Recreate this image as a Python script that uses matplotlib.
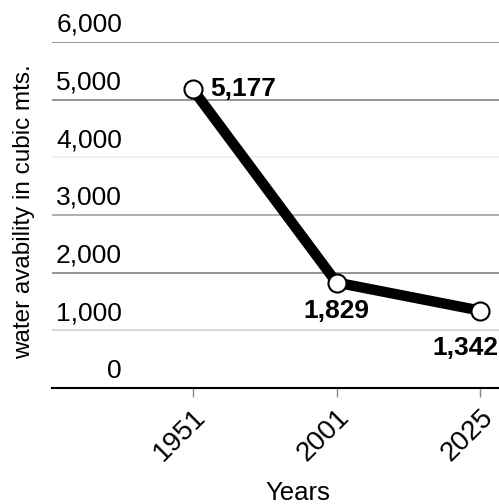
"""Water availability per capita, 1951-2025: thick line with open markers."""
import matplotlib
matplotlib.use("Agg")
import matplotlib.pyplot as plt
import matplotlib.transforms as mtransforms

plt.rcParams["font.family"] = ["Liberation Sans", "DejaVu Sans"]

years = ["1951", "2001", "2025"]
water = [5177, 1829, 1342]
value_labels = ["5,177", "1,829", "1,342"]
y_ticks = [0, 1000, 2000, 3000, 4000, 5000, 6000]
y_tick_labels = ["0", "1,000", "2,000", "3,000", "4,000", "5,000", "6,000"]
grid_colors = ["#000000", "#d4d4d4", "#8c8c8c", "#a8a8a8", "#f0f0f0", "#8c8c8c", "#8c8c8c"]

fig = plt.figure(figsize=(4.99, 5.04), dpi=100)
ax = fig.add_axes([0.104, 0.230, 0.896, 0.687])
xs = list(range(len(years)))

ax.plot(xs, water, color="black", lw=7.5, solid_capstyle="butt", zorder=3)
ax.plot(xs, water, "o", ms=13, mfc="white", mec="black", mew=1.5, zorder=4)

ax.set_xlim(-0.98, 2.13)
ax.set_ylim(0, 6000)

for v, c in zip(y_ticks[1:], grid_colors[1:]):
    ax.axhline(v, color=c, lw=1.3, zorder=1)

# y labels sit between the grid lines, inside the plot
off = mtransforms.offset_copy(ax.get_yaxis_transform(), fig=fig, x=0, y=17, units="dots")
for v, lab in zip(y_ticks, y_tick_labels):
    ax.text(0.157, v, lab, transform=off, ha="right", va="center", fontsize=19)

ax.set_yticks([])
for s in ("top", "right", "left"):
    ax.spines[s].set_visible(False)
ax.spines["bottom"].set_linewidth(1.5)

ax.set_xticks(xs)
ax.set_xticklabels(years, rotation=45, ha="right", va="top", rotation_mode="anchor",
                   fontsize=20)
ax.tick_params(axis="x", length=6.5, color="#888888", width=1, pad=5)

offsets = [(17, 0, "left"), (0, -28, "center"), (-15, -37, "center")]
for x, y, lab, (dx, dy, ha) in zip(xs, water, value_labels, offsets):
    ax.annotate(lab, (x, y), xytext=(dx, dy), textcoords="offset pixels",
                ha=ha, va="center", fontsize=19, fontweight="bold", zorder=5)

fig.text(0.048, 0.580, "water avability in cubic mts.", rotation=90,
         ha="center", va="center", fontsize=17.5)
fig.text(0.597, 0.022, "Years", ha="center", va="center", fontsize=18.5)

fig.savefig("out.png", dpi=100)
